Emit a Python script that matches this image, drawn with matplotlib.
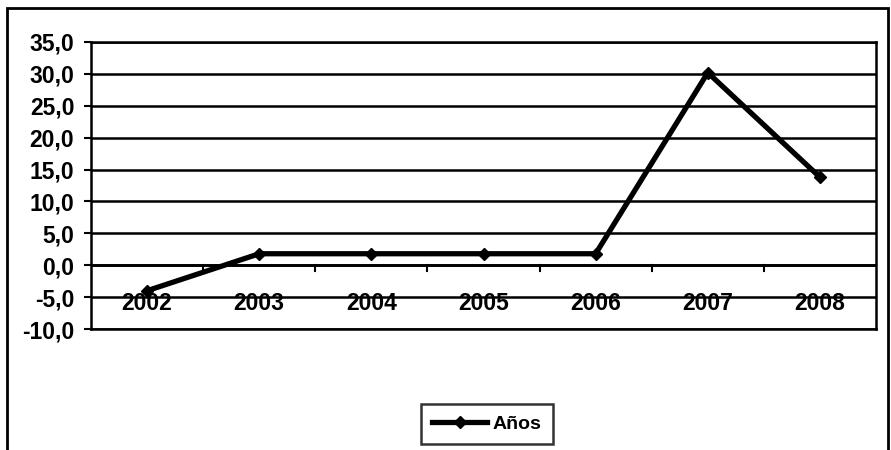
import matplotlib
matplotlib.use("Agg")
import matplotlib.pyplot as plt
from matplotlib.patches import Rectangle
from matplotlib.ticker import FuncFormatter

years = ["2002", "2003", "2004", "2005", "2006", "2007", "2008"]
values = [-4.0, 1.8, 1.8, 1.8, 1.8, 30.2, 13.8]
series_name = "Años"

plt.rcParams['font.family'] = ['Liberation Sans', 'DejaVu Sans']
plt.rcParams['font.weight'] = 'bold'

W, H = 891, 450
fig = plt.figure(figsize=(W/100, H/100), dpi=100)
fig.patch.set_facecolor('white')

left, right, top, bottom = 91, 876, 42, 329
ax = fig.add_axes([left/W, 1-bottom/H, (right-left)/W, (bottom-top)/H])

x = list(range(len(years)))
ax.plot(x, values, color='black', lw=3.8, marker='D', ms=6, label=series_name, zorder=5)

ax.set_xlim(-0.5, len(years)-0.5)
ax.set_ylim(-10, 35)
ax.set_yticks([-10 + 5*i for i in range(10)])
ax.yaxis.set_major_formatter(FuncFormatter(lambda v, p: f"{v:.1f}".replace('.', ',')))
ax.grid(axis='y', color='black', lw=1.8)
ax.set_axisbelow(True)
for s in ax.spines.values():
    s.set_linewidth(1.8)
    s.set_color('black')
ax.tick_params(axis='y', length=5, width=1.5, labelsize=16.5, pad=7, direction='out')

ax.set_xticks([])
ax.axhline(0, color='black', lw=2.0, zorder=3)
for b in [i + 0.5 for i in range(len(years)-1)]:
    ax.plot([b, b], [0, -0.9], color='black', lw=1.5, zorder=3, clip_on=False)
for xi, lab in zip(x, years):
    ax.text(xi, -6.0, lab, ha='center', va='center', fontsize=16.5, fontweight='bold', zorder=6)

leg = ax.legend(loc='center', bbox_to_anchor=(487/W, 1-424/H), bbox_transform=fig.transFigure,
                fontsize=14, frameon=True, fancybox=False, edgecolor='black',
                handlelength=2.8, handletextpad=0.3, borderpad=0.6)
leg.get_frame().set_linewidth(1.8)
for t in leg.get_texts():
    t.set_fontweight('bold')

fig.patches.append(Rectangle((7/W, -0.05), (888-7)/W, 1 - 8/H + 0.05, transform=fig.transFigure,
                             fill=False, edgecolor='black', lw=2.0, clip_on=False))

fig.savefig("out.png", dpi=100)
